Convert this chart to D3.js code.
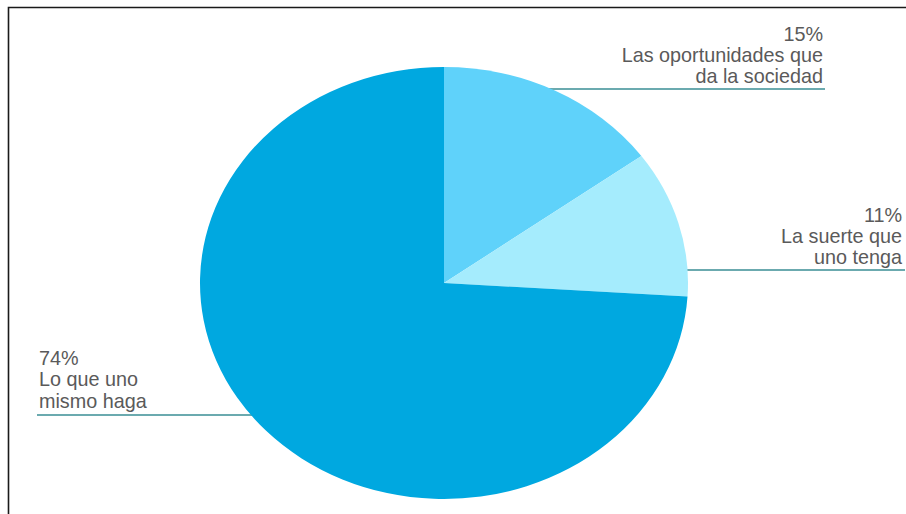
<!DOCTYPE html>
<html>
<head>
<meta charset="utf-8">
<script src="https://cdn.jsdelivr.net/npm/d3@7/dist/d3.min.js"></script>
<style>
  html, body { margin: 0; padding: 0; background: #fff; }
  svg { display: block; }
  text { font-family: "Liberation Sans", Arial, sans-serif; }
</style>
</head>
<body>
<div id="chart"></div>
<script>
// Survey answers, in clockwise order starting at twelve o'clock
const categories = [
  ["Las oportunidades que", "da la sociedad"],
  ["La suerte que", "uno tenga"],
  ["Lo que uno", "mismo haga"]
];
const values = [15, 11, 74];
const percentLabels = ["15%", "11%", "74%"];
const colors = ["#5fd2fa", "#a5ecfd", "#00a8e0"];

const W = 906, H = 514;
const svg = d3.select("#chart").append("svg")
  .attr("width", W).attr("height", H);

// Frame
svg.append("path")
  .attr("d", `M8.5,${H} L8.5,7.5 L${W},7.5`)
  .attr("fill", "none").attr("stroke", "#1a1a1a").attr("stroke-width", 1.6);

// Pie is drawn as an ellipse: horizontal radius rx, vertical radius ry
const cx = 444, cy = 283, ry = 216, rx = 244;
const sx = rx / ry;

const pie = d3.pie().sort(null).value(d => d);
const arcs = pie(values);
const arc = d3.arc().innerRadius(0).outerRadius(ry);

// Leader lines (drawn first so the pie covers their inner ends)
const leaders = [
  { y: 89,  x2: 825, side: 1 },
  { y: 270, x2: 905, side: 1 },
  { y: 415, x2: 37,  side: -1 }
];
function edgeX(y, side) {
  const dy = (y - cy) / ry;
  return cx + side * rx * Math.sqrt(Math.max(0, 1 - dy * dy));
}
svg.append("g").selectAll("line")
  .data(leaders).join("line")
  .attr("x1", d => edgeX(d.y, d.side) - d.side * 6)
  .attr("x2", d => d.x2)
  .attr("y1", d => d.y).attr("y2", d => d.y)
  .attr("stroke", "#3a8e94").attr("stroke-width", 1.4);

const g = svg.append("g")
  .attr("transform", `translate(${cx},${cy}) scale(${sx},1)`);
g.selectAll("path")
  .data(arcs).join("path")
  .attr("d", arc)
  .attr("fill", (d, i) => colors[i]);

// Labels
const labelPos = [
  { x: 823, y: 40.5,  anchor: "end" },
  { x: 902, y: 221.5, anchor: "end" },
  { x: 39,  y: 365,   anchor: "start" }
];
const lineGap = 21.3;
const lg = svg.append("g")
  .attr("font-size", 19.8)
  .attr("fill", "#5a5a5a");
labelPos.forEach((p, i) => {
  const t = lg.append("text")
    .attr("x", p.x).attr("y", p.y)
    .attr("text-anchor", p.anchor);
  const lines = [percentLabels[i]].concat(categories[i]);
  lines.forEach((s, k) => {
    t.append("tspan").attr("x", p.x).attr("y", p.y + k * lineGap).text(s);
  });
});
</script>
</body>
</html>
